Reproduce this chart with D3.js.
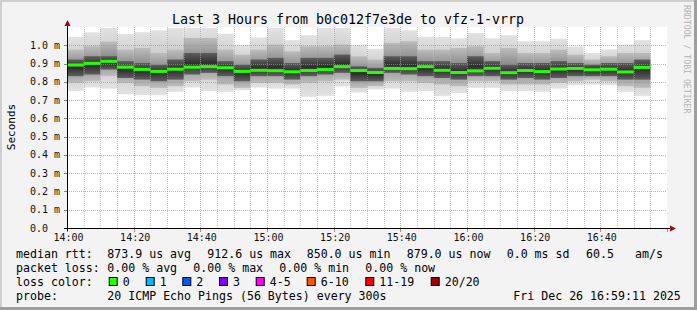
<!DOCTYPE html>
<html>
<head>
<meta charset="utf-8">
<title>SmokePing b0c012f7e3de to vfz-1-vrrp</title>
<script src="https://d3js.org/d3.v7.min.js"></script>
<style>
  body {margin: 0; background: #fff;}
  svg {display: block; font-family: "DejaVu Sans Mono", monospace;}
</style>
</head>
<body>
<script>
// 5 minute steps, start of each step
var slots = ["14:00","14:05","14:10","14:15","14:20","14:25","14:30","14:35","14:40","14:45",
             "14:50","14:55","15:00","15:05","15:10","15:15","15:20","15:25","15:30","15:35",
             "15:40","15:45","15:50","15:55","16:00","16:05","16:10","16:15","16:20","16:25",
             "16:30","16:35","16:40","16:45","16:50"];

// median rtt per step, ms
var median = [0.892,0.901,0.912,0.880,0.868,0.857,0.869,0.880,0.883,0.877,
              0.857,0.863,0.861,0.855,0.862,0.867,0.883,0.862,0.851,0.873,
              0.872,0.883,0.863,0.851,0.860,0.874,0.850,0.862,0.856,0.870,
              0.873,0.866,0.869,0.854,0.879];

// smoke: outer, middle and core band edges, ms
var outerHi = [1.045,1.071,1.095,1.062,1.072,1.082,1.095,1.095,1.095,1.063,
               1.002,1.043,1.095,1.028,1.055,1.095,1.095,1.002,0.981,1.095,
               1.082,1.047,1.045,1.038,1.067,1.038,1.055,1.022,1.022,1.036,
               0.993,0.958,0.978,1.004,1.028];
var midHi   = [0.976,0.995,1.020,0.976,0.985,0.958,0.976,1.040,1.040,0.976,
               0.949,0.976,1.004,0.967,0.995,0.995,1.004,0.940,0.922,1.013,
               1.022,0.976,0.976,0.985,0.995,0.958,0.985,0.958,0.958,0.976,
               0.949,0.922,0.940,0.958,0.958];
var coreHi  = [0.922,0.940,0.940,0.913,0.903,0.894,0.922,0.958,0.958,0.913,
               0.894,0.922,0.931,0.903,0.931,0.931,0.949,0.885,0.876,0.940,
               0.940,0.913,0.913,0.903,0.940,0.913,0.894,0.903,0.903,0.913,
               0.903,0.894,0.903,0.903,0.922];
var coreLo  = [0.831,0.840,0.867,0.821,0.812,0.803,0.812,0.840,0.849,0.831,
               0.803,0.831,0.831,0.812,0.831,0.840,0.849,0.803,0.803,0.849,
               0.840,0.831,0.821,0.812,0.831,0.831,0.812,0.821,0.812,0.821,
               0.831,0.831,0.831,0.812,0.812];
var midLo   = [0.794,0.803,0.831,0.794,0.776,0.767,0.776,0.803,0.812,0.785,
               0.767,0.794,0.794,0.785,0.794,0.803,0.812,0.767,0.776,0.803,
               0.803,0.794,0.785,0.776,0.803,0.803,0.785,0.785,0.785,0.794,
               0.803,0.812,0.803,0.776,0.767];
var outerLo = [0.750,0.769,0.763,0.732,0.727,0.727,0.745,0.769,0.750,0.745,
               0.754,0.769,0.763,0.763,0.718,0.723,0.774,0.741,0.758,0.763,
               0.745,0.750,0.723,0.739,0.767,0.767,0.750,0.750,0.745,0.763,
               0.781,0.785,0.781,0.745,0.723];

var yTicks = [0, 0.1, 0.2, 0.3, 0.4, 0.5, 0.6, 0.7, 0.8, 0.9, 1.0];
var yLabels = ["0.0","0.1 m","0.2 m","0.3 m","0.4 m","0.5 m","0.6 m","0.7 m","0.8 m","0.9 m","1.0 m"];
var xLabels = ["14:00","14:20","14:40","15:00","15:20","15:40","16:00","16:20","16:40"];

var lossLabels = ["0","1","2","3","4-5","6-10","11-19","20/20"];
var lossColors = ["#26ff00","#00b8ff","#0059ff","#7e00ff","#ff00ff","#ff5500","#ff0000","#a10000"];

var W = 697, H = 310;
var svg = d3.select("body").append("svg").attr("width", W).attr("height", H);

// grey shading inside each smoke band: lighter at the edges, darker to the middle
var defs = svg.append("defs");
[["gOuter", "#e2e2e2", "#c6c6c6"], ["gMid", "#bdbdbd", "#848484"], ["gCore", "#5e5e5e", "#2e2e2e"]]
  .forEach(function(g) {
    var lg = defs.append("linearGradient").attr("id", g[0])
      .attr("x1", 0).attr("x2", 0).attr("y1", 0).attr("y2", 1);
    lg.append("stop").attr("offset", "0%").attr("stop-color", g[1]);
    lg.append("stop").attr("offset", "50%").attr("stop-color", g[2]);
    lg.append("stop").attr("offset", "100%").attr("stop-color", g[1]);
  });

// frame
svg.append("rect").attr("width", W).attr("height", H).attr("fill", "#f3f3f3");
svg.append("path").attr("d", "M0,0H697V2H2V310H0Z").attr("fill", "#cfcfcf");
svg.append("path").attr("d", "M697,0V310H0V307H694V0Z").attr("fill", "#9e9e9e");

var parse = d3.timeParse("%Y-%m-%d %H:%M");
var t0 = parse("2025-12-26 14:00"), t1 = parse("2025-12-26 17:00");
var x = d3.scaleTime().domain([t0, t1]).range([67, 667]);
var y = d3.scaleLinear().domain([0, 1.1]).range([228, 27]);

// canvas
svg.append("rect").attr("x", 67).attr("y", 27).attr("width", 600).attr("height", 201).attr("fill", "#fff");

var steps = slots.map(function(s, i) {
  var t = parse("2025-12-26 " + s);
  return {x0: x(t), x1: x(d3.timeMinute.offset(t, 5)), i: i};
});

function band(hi, lo, fill) {
  svg.append("g").selectAll("rect")
    .data(steps).enter().append("rect")
      .attr("x", function(d) { return d.x0; })
      .attr("width", function(d) { return d.x1 - d.x0; })
      .attr("y", function(d) { return y(hi[d.i]); })
      .attr("height", function(d) { return y(lo[d.i]) - y(hi[d.i]); })
      .attr("fill", fill);
}
band(outerHi, outerLo, "url(#gOuter)");
band(midHi, midLo, "url(#gMid)");
band(coreHi, coreLo, "url(#gCore)");

// median, drawn as small bar per step (loss 0 colour)
svg.append("g").selectAll("rect")
  .data(steps).enter().append("rect")
    .attr("x", function(d) { return d.x0; })
    .attr("width", function(d) { return d.x1 - d.x0; })
    .attr("y", function(d) { return y(median[d.i]) - 1.5; })
    .attr("height", 3)
    .attr("fill", lossColors[0]);

// grid
var minor = x.ticks(d3.timeMinute.every(5)).filter(function(t) { return t.getMinutes() % 20 != 0; });
var major = x.ticks(d3.timeMinute.every(20));
var grid = svg.append("g");
grid.selectAll(".vmin").data(minor).enter().append("line")
  .attr("x1", function(d) { return Math.round(x(d)) + 0.5; })
  .attr("x2", function(d) { return Math.round(x(d)) + 0.5; })
  .attr("y1", 27).attr("y2", 228)
  .attr("stroke", "#9a9a9a").attr("stroke-opacity", 0.55).attr("stroke-dasharray", "1,1");
grid.selectAll(".vmaj").data(major.filter(function(t) { return +t > +t0 && +t < +t1; })).enter().append("line")
  .attr("x1", function(d) { return Math.round(x(d)) + 0.5; })
  .attr("x2", function(d) { return Math.round(x(d)) + 0.5; })
  .attr("y1", 27).attr("y2", 228)
  .attr("stroke", "#f07070").attr("stroke-opacity", 0.7).attr("stroke-dasharray", "1,1");
grid.selectAll(".hmaj").data(yTicks.slice(1)).enter().append("line")
  .attr("x1", 67).attr("x2", 667)
  .attr("y1", function(d) { return Math.round(y(d)) + 0.5; })
  .attr("y2", function(d) { return Math.round(y(d)) + 0.5; })
  .attr("stroke", "#f07070").attr("stroke-opacity", 0.7).attr("stroke-dasharray", "1,1");

// ticks on axes
grid.selectAll(".yt").data(yTicks).enter().append("line")
  .attr("x1", 64).attr("x2", 67)
  .attr("y1", function(d) { return Math.round(y(d)) + 0.5; })
  .attr("y2", function(d) { return Math.round(y(d)) + 0.5; })
  .attr("stroke", "#888");
grid.selectAll(".xt").data(major).enter().append("line")
  .attr("x1", function(d) { return Math.round(x(d)) + 0.5; })
  .attr("x2", function(d) { return Math.round(x(d)) + 0.5; })
  .attr("y1", 229).attr("y2", 232)
  .attr("stroke", "#f07070");

// axes with arrows
svg.append("line").attr("x1", 64).attr("x2", 672).attr("y1", 228.5).attr("y2", 228.5).attr("stroke", "#000");
svg.append("line").attr("x1", 67.5).attr("x2", 67.5).attr("y1", 231).attr("y2", 24).attr("stroke", "#000");
svg.append("path").attr("d", "M64.5,26L67.5,20L70.5,26Z").attr("fill", "#8b1010");
svg.append("path").attr("d", "M670,225.5L676,228.5L670,231.5Z").attr("fill", "#8b1010");

// axis labels
svg.append("g").selectAll("text").data(yTicks).enter().append("text")
  .attr("x", 30).attr("y", function(d) { return y(d) + 3.5; })
  .attr("font-size", "10px").attr("fill", "#111")
  .text(function(d, i) { return yLabels[i]; });
svg.append("g").selectAll("text").data(xLabels).enter().append("text")
  .attr("x", function(d) { return x(parse("2025-12-26 " + d)) + 1.5; })
  .attr("y", 241).attr("text-anchor", "middle")
  .attr("font-size", "10px").attr("fill", "#111")
  .text(function(d) { return d; });

// title and side texts
svg.append("text").attr("x", 348).attr("y", 23.5).attr("text-anchor", "middle")
  .attr("font-size", "13.3px").attr("fill", "#000")
  .text("Last 3 Hours from b0c012f7e3de to vfz-1-vrrp");
svg.append("text").attr("transform", "translate(15,127) rotate(-90)").attr("text-anchor", "middle")
  .attr("font-size", "11px").attr("fill", "#000").text("Seconds");
svg.append("text").attr("transform", "translate(684,5) rotate(90)")
  .attr("font-size", "8.2px").attr("fill", "#b4b4b4").text("RRDTOOL / TOBI OETIKER");

// legend
var legend = [
  [16, 258, "median rtt:"], [107.3, 258, "873.9 us avg"], [207.3, 258, "912.6 us max"],
  [306.7, 258, "850.0 us min"], [406.7, 258, "879.0 us now"], [506.7, 258, "0.0 ms sd"],
  [586, 258, "60.5"], [635, 258, "am/s"],
  [16, 272, "packet loss:"], [107.3, 272, "0.00 % avg"], [193.3, 272, "0.00 % max"],
  [279.3, 272, "0.00 % min"], [365.3, 272, "0.00 % now"],
  [16, 286, "loss color:"],
  [16, 300, "probe:"], [107.3, 300, "20 ICMP Echo Pings (56 Bytes) every 300s"],
  [513.3, 300, "Fri Dec 26 16:59:11 2025"]
];
svg.append("g").selectAll("text").data(legend).enter().append("text")
  .attr("x", function(d) { return d[0]; }).attr("y", function(d) { return d[1]; })
  .attr("font-size", "11.6px").attr("fill", "#000").style("white-space", "pre")
  .text(function(d) { return d[2]; });

var boxX = [108.7, 145.7, 182.3, 219, 255.7, 306.7, 365.3, 430.7];
var lc = svg.append("g").selectAll("g").data(lossLabels).enter().append("g");
lc.append("rect")
  .attr("x", function(d, i) { return boxX[i] + 0.5; }).attr("y", 277.5)
  .attr("width", 8).attr("height", 8)
  .attr("fill", function(d, i) { return lossColors[i]; })
  .attr("stroke", "#000");
lc.append("text")
  .attr("x", function(d, i) { return boxX[i] + 14; }).attr("y", 286)
  .attr("font-size", "11.6px").attr("fill", "#000")
  .text(function(d) { return d; });
</script>
</body>
</html>
